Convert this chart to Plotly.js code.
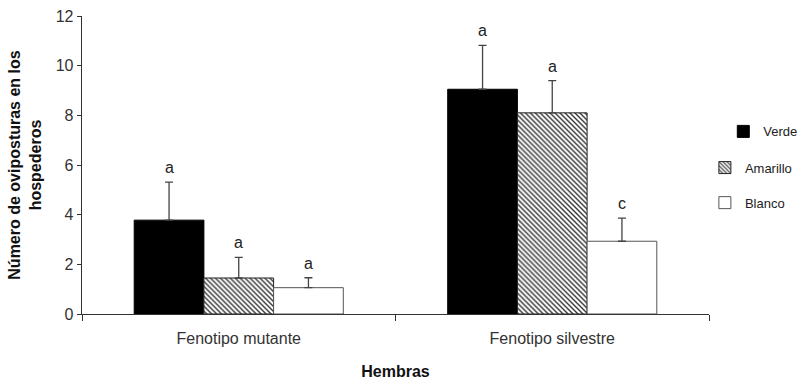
<!DOCTYPE html>
<html><head><meta charset="utf-8">
<script src="https://cdn.plot.ly/plotly-3.0.1.min.js"></script>
<style>body{margin:0;background:#fff}#c{width:801px;height:381px}</style>
</head><body><div id="c"></div>
<script>
const categories = ["Fenotipo mutante", "Fenotipo silvestre"];
const seriesNames = ["Verde", "Amarillo", "Blanco"];
const verde = [3.78, 9.05];
const amarillo = [1.45, 8.1];
const blanco = [1.06, 2.93];
const verdeErr = [1.53, 1.77];
const amarilloErr = [0.83, 1.3];
const blancoErr = [0.4, 0.93];
const letters = [["a", "a"], ["a", "a"], ["a", "c"]];
const yTicks = [0, 2, 4, 6, 8, 10, 12];

const values = [verde, amarillo, blanco];
const errs = [verdeErr, amarilloErr, blancoErr];
const font = "Liberation Sans, Arial, sans-serif";
const styles = [
  {color: "#000", line: {color: "#000", width: 1}},
  {color: "#fff", line: {color: "#222", width: 1}, pattern: {shape: "\\", fgcolor: "#333", bgcolor: "#fff", size: 3.5, solidity: 0.4}},
  {color: "#fff", line: {color: "#555", width: 1}}
];
const legendPos = [{x: 0.903, y: 0.655}, {x: 0.88, y: 0.56}, {x: 0.88, y: 0.468}];
const bargap = 0.333;

const traces = seriesNames.map((n, i) => ({
  type: "bar", name: n, x: categories, y: values[i],
  marker: styles[i],
  error_y: {type: "data", array: errs[i], symmetric: false, arrayminus: errs[i].map(() => 0), color: "#444", thickness: 1.3, width: 4},
  legend: i === 0 ? "legend" : "legend" + (i + 1)
}));

const bw = (1 - bargap) / 3;
const annotations = [];
seriesNames.forEach((n, i) => {
  categories.forEach((c, j) => {
    annotations.push({
      xref: "x", yref: "y", x: j + (i - 1) * bw, y: values[i][j] + errs[i][j],
      text: letters[i][j], showarrow: false, yanchor: "bottom", yshift: 4,
      font: {family: font, size: 16, color: "#222"}
    });
  });
});

const legendBase = {xref: "container", yref: "container", xanchor: "left", yanchor: "middle", bgcolor: "rgba(0,0,0,0)", font: {family: font, size: 13, color: "#222"}, itemwidth: 30};
const layout = {
  width: 801, height: 381,
  margin: {l: 82, r: 92, t: 16, b: 67, autoexpand: false},
  paper_bgcolor: "#fff", plot_bgcolor: "#fff",
  barmode: "group", bargap: bargap, bargroupgap: 0,
  showlegend: true,
  legend: Object.assign({}, legendBase, legendPos[0]),
  legend2: Object.assign({}, legendBase, legendPos[1]),
  legend3: Object.assign({}, legendBase, legendPos[2]),
  xaxis: {
    type: "category", showline: true, linecolor: "#333", linewidth: 1.3,
    ticks: "outside", tickson: "boundaries", ticklen: 6, tickcolor: "#333",
    ticklabelstandoff: 9,
    tickfont: {family: font, size: 16, color: "#333"},
    title: {text: "<b>Hembras</b>", font: {family: font, size: 16, color: "#111"}, standoff: 20},
    showgrid: false, zeroline: false
  },
  yaxis: {
    range: [0, 12], tickvals: yTicks, showline: true, linecolor: "#333", linewidth: 1.3,
    ticks: "outside", ticklen: 4, tickcolor: "#333",
    tickfont: {family: font, size: 16, color: "#333"},
    title: {text: "<b>Número de oviposturas en los<br>hospederos</b>", font: {family: font, size: 16, color: "#111"}, standoff: 10},
    showgrid: false, zeroline: false
  },
  annotations: annotations
};
Plotly.newPlot("c", traces, layout, {displayModeBar: false, staticPlot: true});
</script></body></html>
